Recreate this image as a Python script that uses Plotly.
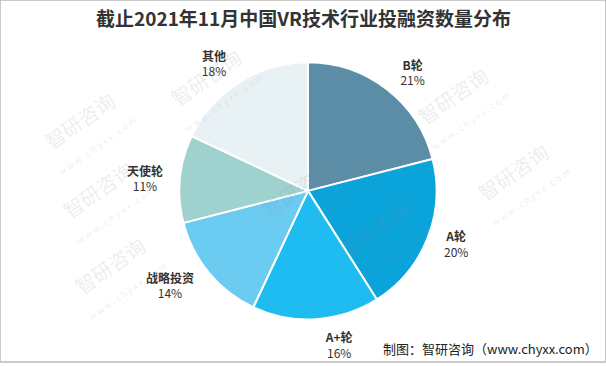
import plotly.graph_objects as go

categories = ["B轮", "A轮", "A+轮", "战略投资", "天使轮", "其他"]
shares = [21, 20, 16, 14, 11, 18]
colors = ["#5b8ea6", "#0aa3da", "#1fbcf2", "#6bcbf1", "#9fd2cf", "#e8f1f4"]

title_text = "截止2021年11月中国VR技术行业投融资数量分布"
source_text = "制图：智研咨询（www.chyxx.com）"

W, H = 606, 366
cx, cy, r = 308, 193, 130
r_text = 139


def dom(rad):
    return dict(x=[(cx - rad) / W, (cx + rad) / W], y=[(H - cy - rad) / H, (H - cy + rad) / H])


fig = go.Figure()
# visible pie
fig.add_trace(go.Pie(
    labels=categories,
    values=shares,
    sort=False,
    direction="clockwise",
    rotation=0,
    marker=dict(colors=colors, line=dict(color="white", width=2)),
    textinfo="none",
    showlegend=False,
    hoverinfo="label+percent",
    domain=dom(r),
))
# transparent pie carrying the outside labels a little further out
fig.add_trace(go.Pie(
    labels=categories,
    values=shares,
    sort=False,
    direction="clockwise",
    rotation=0,
    marker=dict(colors=["rgba(0,0,0,0)"] * len(categories), line=dict(width=0)),
    texttemplate="<b>%{label}</b><br>%{percent:.0%}",
    textposition="outside",
    textfont=dict(family="Noto Sans CJK SC", size=12, color="#333333"),
    showlegend=False,
    hoverinfo="skip",
    domain=dom(r_text),
))

annotations = [
    dict(text=f"<b>{title_text}</b>", x=0.5, y=1 - 18 / H, xref="paper", yref="paper",
         showarrow=False, xanchor="center", yanchor="middle",
         font=dict(family="Noto Sans CJK SC", size=19, color="#333333")),
    dict(text=source_text, x=1 - 6 / W, y=14 / H, xref="paper", yref="paper",
         showarrow=False, xanchor="right", yanchor="middle",
         font=dict(family="Noto Sans CJK SC", size=13, color="#222222")),
]

# faint watermarks
wm_positions = [(0.05, 0.78), (0.08, 0.45), (0.1, 0.1), (0.5, 0.45), (0.72, 0.2), (0.85, 0.85), (0.95, 0.5), (0.35, 0.9)]
for (x, y) in wm_positions:
    annotations.append(dict(text="智研咨询<br><span style='font-size:9px'>w w w . c h y x x . c o m</span>",
                            x=x, y=y, xref="paper", yref="paper", showarrow=False,
                            textangle=-35, font=dict(family="Noto Sans CJK SC", size=20, color="rgba(150,150,150,0.18)")))

fig.update_layout(
    width=W, height=H,
    margin=dict(l=0, r=0, t=0, b=0),
    paper_bgcolor="white",
    plot_bgcolor="white",
    annotations=annotations,
    shapes=[dict(type="rect", xref="paper", yref="paper", x0=0, y0=0, x1=1, y1=1,
                 line=dict(color="#bbbbbb", width=1.5))],
)

fig.write_html("out.html", config={"displayModeBar": False},
               post_script="document.body.style.margin='0';document.body.style.overflow='hidden';")
